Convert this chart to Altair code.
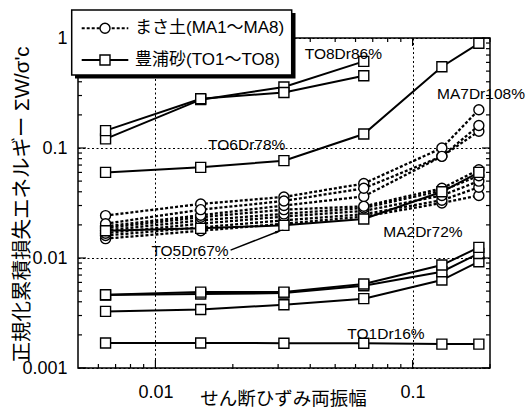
import altair as alt
import pandas as pd

# ---------------- data ----------------
strain = [0.0064, 0.015, 0.0316, 0.0646, 0.130, 0.181]

ma_names = ["MA1", "MA2", "MA3", "MA4", "MA5", "MA6", "MA7", "MA8"]
ma_values = [
    [0.0150, 0.0177, 0.0205, 0.0238, 0.0316, 0.0370],
    [0.0160, 0.0190, 0.0220, 0.0250, 0.0335, 0.0440],
    [0.0168, 0.0205, 0.0238, 0.0268, 0.0370, 0.0500],
    [0.0178, 0.0220, 0.0252, 0.0285, 0.0410, 0.0560],
    [0.0187, 0.0235, 0.0275, 0.0295, 0.0430, 0.0635],
    [0.0194, 0.0245, 0.0300, 0.0363, 0.0840, 0.1420],
    [0.0243, 0.0310, 0.0359, 0.0475, 0.1000, 0.2230],
    [0.0205, 0.0275, 0.0330, 0.0430, 0.0840, 0.1600],
]

to_names = ["TO1", "TO2", "TO3", "TO4", "TO5", "TO6", "TO7", "TO8"]
to_values = [
    [0.00169, 0.00169, 0.00168, 0.00168, 0.00165, 0.00165],
    [0.00327, 0.00340, 0.00376, 0.00427, 0.00630, 0.00925],
    [0.00460, 0.00470, 0.00480, 0.00560, 0.00750, 0.01100],
    [0.00464, 0.00490, 0.00490, 0.00580, 0.00863, 0.01250],
    [0.0177, 0.0186, 0.0198, 0.0226, 0.0400, 0.0600],
    [0.0600, 0.0667, 0.0767, 0.1340, 0.5480, 0.8950],
    [0.121, 0.275, 0.359, 0.613],
    [0.144, 0.280, 0.320, 0.454],
]

annot_text = ["TO8Dr86%", "MA7Dr108%", "TO6Dr78%", "TO5Dr67%", "MA2Dr72%", "TO1Dr16%"]
annot_x = [0.0538, 0.1845, 0.02265, 0.01363, 0.1097, 0.0788]
annot_y = [0.715, 0.31, 0.1054, 0.01158, 0.01706, 0.00204]

arrow_x = [0.0196, 0.0300]
arrow_y = [0.01180, 0.01740]

x_ticks_major = [0.01, 0.1]
x_ticks_minor = [0.006, 0.007, 0.008, 0.009, 0.02, 0.03, 0.04, 0.05, 0.06, 0.07, 0.08, 0.09, 0.2]
y_ticks_major = [0.001, 0.01, 0.1, 1]
y_ticks_minor = [m * d for d in (0.001, 0.01, 0.1) for m in range(2, 10)]

legend_labels = ["まさ土(MA1〜MA8)", "豊浦砂(TO1〜TO8)"]

x_title = "せん断ひずみ両振幅"
y_title = "正規化累積損失エネルギー ΣW/σ'c"

# ---------------- tables ----------------
rows = []
for name, vals in zip(ma_names, ma_values):
    for i, v in enumerate(vals):
        rows.append({"series": name, "group": "MA", "x": strain[i], "y": v, "idx": i})
for name, vals in zip(to_names, to_values):
    for i, v in enumerate(vals):
        rows.append({"series": name, "group": "TO", "x": strain[i], "y": v, "idx": i})
for i in range(2):
    rows.append({"series": "arrow", "group": "AR", "x": arrow_x[i], "y": arrow_y[i], "idx": i})
df = pd.DataFrame(rows)
ma_df = df[df.group == "MA"]
to_df = df[df.group == "TO"]
ar_df = df[df.group == "AR"]
ar_tip = ar_df[ar_df.idx == 1]

ann_df = pd.DataFrame({"label": annot_text, "x": annot_x, "y": annot_y})

xt_minor = pd.DataFrame({"x": x_ticks_minor})
xt_major = pd.DataFrame({"x": x_ticks_major})
yt_minor = pd.DataFrame({"y": y_ticks_minor})
yt_major = pd.DataFrame({"y": y_ticks_major})

FONT = "Liberation Sans, Noto Sans CJK JP"
W, H = 412, 330

xs = alt.Scale(type="log", domain=[0.005, 0.2], nice=False)
ys = alt.Scale(type="log", domain=[0.001, 1], nice=False)

xaxis = alt.Axis(
    values=x_ticks_major, format="~g", grid=True, gridColor="black", gridDash=[2, 2.5],
    gridWidth=1, gridOpacity=1, ticks=False, tickSize=0, domain=False,
    labelFontSize=18, labelFont=FONT, labelColor="black", labelPadding=15,
    title=x_title, titleFont=FONT, titleFontSize=18.5, titleFontWeight="normal",
    titleColor="black", titleY=21, titleBaseline="top", titleX=205,
)
yaxis = alt.Axis(
    values=y_ticks_major, format="~g", grid=True, gridColor="black", gridDash=[2, 2.5],
    gridWidth=1, gridOpacity=1, ticks=False, tickSize=0, domain=False,
    labelFontSize=18, labelFont=FONT, labelColor="black", labelPadding=11,
    title=y_title, titleFont=FONT, titleFontSize=20.5, titleFontWeight="normal",
    titleColor="black", titleX=-56, titleY=166, titleBaseline="middle", titleAngle=270,
)

X = alt.X("x:Q", scale=xs, axis=xaxis)
Y = alt.Y("y:Q", scale=ys, axis=yaxis)

ma_lines = alt.Chart(ma_df).mark_line(color="black", strokeWidth=2.3, strokeDash=[3, 2]).encode(
    x=X, y=Y, detail="series:N", order="idx:Q")
to_lines = alt.Chart(to_df).mark_line(color="black", strokeWidth=2).encode(
    x=X, y=Y, detail="series:N", order="idx:Q")
ar_line = alt.Chart(ar_df).mark_line(color="black", strokeWidth=1.5).encode(
    x=X, y=Y, detail="series:N", order="idx:Q")
ma_pts = alt.Chart(ma_df).mark_point(shape="circle", size=100, filled=True, fill="white",
                                      stroke="black", strokeWidth=1.4, opacity=1).encode(x=X, y=Y)
to_pts = alt.Chart(to_df).mark_point(shape="square", size=100, filled=True, fill="white",
                                      stroke="black", strokeWidth=1.4, opacity=1).encode(x=X, y=Y)

labels = alt.Chart(ann_df).mark_text(font=FONT, fontSize=15.5, color="black",
                                     align="center", baseline="middle").encode(x=X, y=Y, text="label:N")

arrow_head = alt.Chart(ar_tip).mark_point(shape="wedge", size=110, filled=True,
                                          color="black", angle=70, opacity=1).encode(x=X, y=Y)

tick_w = 1.2
bx_minor = alt.Chart(xt_minor).mark_rule(color="black", strokeWidth=tick_w).encode(
    x=X, y=alt.value(H), y2=alt.value(H - 4))
bx_major = alt.Chart(xt_major).mark_rule(color="black", strokeWidth=tick_w).encode(
    x=X, y=alt.value(H), y2=alt.value(H - 8))
tx_minor = alt.Chart(xt_minor).mark_rule(color="black", strokeWidth=tick_w).encode(
    x=X, y=alt.value(0), y2=alt.value(4))
tx_major = alt.Chart(xt_major).mark_rule(color="black", strokeWidth=tick_w).encode(
    x=X, y=alt.value(0), y2=alt.value(8))
ly_minor = alt.Chart(yt_minor).mark_rule(color="black", strokeWidth=tick_w).encode(
    y=Y, x=alt.value(0), x2=alt.value(4))
ly_major = alt.Chart(yt_major).mark_rule(color="black", strokeWidth=tick_w).encode(
    y=Y, x=alt.value(0), x2=alt.value(8))
ry_minor = alt.Chart(yt_minor).mark_rule(color="black", strokeWidth=tick_w).encode(
    y=Y, x=alt.value(W), x2=alt.value(W - 4))
ry_major = alt.Chart(yt_major).mark_rule(color="black", strokeWidth=tick_w).encode(
    y=Y, x=alt.value(W), x2=alt.value(W - 8))

# ---------------- legend ----------------
one = pd.DataFrame({"a": [0]})
leg_shadow = alt.Chart(one).mark_rect(color="black").encode(
    x=alt.value(-3), x2=alt.value(217.5), y=alt.value(-25), y2=alt.value(40.5))
leg_box = alt.Chart(one).mark_rect(fill="white", stroke="black", strokeWidth=1.5).encode(
    x=alt.value(-6.3), x2=alt.value(213.7), y=alt.value(-28), y2=alt.value(37))
r1, r2 = -9.7, 22
leg_l1 = alt.Chart(one).mark_rule(color="black", strokeWidth=2, strokeDash=[3, 2]).encode(
    x=alt.value(3.7), x2=alt.value(50.3), y=alt.value(r1))
leg_l2 = alt.Chart(one).mark_rule(color="black", strokeWidth=2).encode(
    x=alt.value(3.7), x2=alt.value(50.3), y=alt.value(r2))
leg_p1 = alt.Chart(one).mark_point(shape="circle", size=100, filled=True, fill="white",
                                   stroke="black", strokeWidth=1.4, opacity=1).encode(
    x=alt.value(27), y=alt.value(r1))
leg_p2 = alt.Chart(one).mark_point(shape="square", size=100, filled=True, fill="white",
                                   stroke="black", strokeWidth=1.4, opacity=1).encode(
    x=alt.value(27), y=alt.value(r2))
leg_t1 = alt.Chart(one).mark_text(font=FONT, fontSize=17, color="black", align="left",
                                  baseline="middle").encode(
    x=alt.value(57), y=alt.value(r1), text=alt.value(legend_labels[0]))
leg_t2 = alt.Chart(one).mark_text(font=FONT, fontSize=17, color="black", align="left",
                                  baseline="middle").encode(
    x=alt.value(57), y=alt.value(r2), text=alt.value(legend_labels[1]))

chart = alt.layer(
    ma_lines, to_lines, ar_line, ma_pts, to_pts, labels, arrow_head,
    bx_minor, bx_major, tx_minor, tx_major, ly_minor, ly_major, ry_minor, ry_major,
    leg_shadow, leg_box, leg_l1, leg_l2, leg_p1, leg_p2, leg_t1, leg_t2,
).properties(
    width=W, height=H,
    autosize=alt.AutoSizeParams(type="none"),
    padding={"left": 78, "top": 38, "right": 39, "bottom": 39},
    background="white",
).configure_view(stroke="black", strokeWidth=1.5)

chart.save("out.html", embed_options={"renderer": "svg", "actions": False})
